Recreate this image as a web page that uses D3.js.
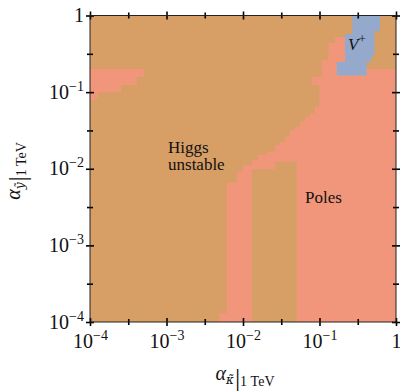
<!DOCTYPE html>
<html>
<head>
<meta charset="utf-8">
<script src="https://cdn.jsdelivr.net/npm/d3@7"></script>
<style>
  body { margin: 0; background: #fff; }
  text { font-family: "Liberation Serif", "DejaVu Serif", serif; fill: #111; }
</style>
</head>
<body>
<svg id="chart" width="400" height="391"></svg>
<script>
// axis ranges / ticks
var xDomain = [1e-4, 1];
var yDomain = [1e-4, 1];
var majorExp = [-4, -3, -2, -1, 0];
var minorExp = [-3.5, -2.5, -1.5, -0.5];

// region outlines, [log10 alpha_kappa, log10 alpha_y]
var polesMain = [
  [-0.797,-0.281],[-0.536,-0.281],[-0.536,-0.698],[0,-0.698],[0,-4],
  [-2.314,-4],[-2.314,-3.884],[-2.209,-3.884],[-2.209,-2.187],[-2.082,-2.187],
  [-2.082,-2.039],[-2.000,-2.039],[-2.000,-1.952],[-1.886,-1.952],[-1.886,-1.886],
  [-1.804,-1.886],[-1.804,-1.821],[-1.690,-1.821],[-1.690,-1.778],[-1.582,-1.778],
  [-1.582,-1.691],[-1.516,-1.691],[-1.516,-1.648],[-1.451,-1.648],[-1.451,-1.582],
  [-1.386,-1.582],[-1.386,-1.495],[-1.320,-1.495],[-1.320,-1.452],[-1.255,-1.452],
  [-1.255,-1.386],[-1.190,-1.386],[-1.190,-1.321],[-1.124,-1.321],[-1.124,-1.277],
  [-1.059,-1.277],[-1.059,-1.191],[-1.003,-1.191],[-1.003,-0.907],[-1.102,-0.907],
  [-1.102,-0.799],[-0.971,-0.799],[-0.971,-0.581],[-0.885,-0.581],[-0.885,-0.359],
  [-0.797,-0.359]
];
var polesLeft = [
  [-4,-0.698],[-3.290,-0.698],[-3.290,-0.799],[-3.390,-0.799],[-3.390,-0.907],
  [-3.595,-0.907],[-3.595,-1.003],[-3.895,-1.003],[-3.895,-1.064],[-3.948,-1.103],
  [-4,-1.116]
];
var higgsIsland = [
  [-1.886,-2.004],[-1.582,-2.004],[-1.582,-1.909],[-1.298,-1.909],[-1.298,-4],[-1.886,-4]
];
var vPlus = [
  [-0.571,0],[-0.209,0],[-0.209,-0.202],[-0.281,-0.202],[-0.281,-0.522],
  [-0.320,-0.522],[-0.320,-0.607],[-0.383,-0.607],[-0.383,-0.783],[-0.775,-0.783],
  [-0.775,-0.607],[-0.667,-0.607],[-0.667,-0.242],[-0.571,-0.242]
];

var colors = { higgs: "#D79E66", poles: "#F2967B", vplus: "#94A9CB" };

var svg = d3.select("#chart");
var padL = 90, padR = 396, padT = 15.5, padB = 322;

var x = d3.scaleLog().domain(xDomain).range([padL, padR]);
var y = d3.scaleLog().domain(yDomain).range([padB, padT]);

var line = d3.line()
  .x(function(d) { return x(Math.pow(10, d[0])); })
  .y(function(d) { return y(Math.pow(10, d[1])); });

// background = Higgs unstable
svg.append("rect")
  .attr("x", x(xDomain[0])).attr("y", y(yDomain[1]))
  .attr("width", x(xDomain[1]) - x(xDomain[0]))
  .attr("height", y(yDomain[0]) - y(yDomain[1]))
  .attr("fill", colors.higgs);

[[polesMain, colors.poles], [polesLeft, colors.poles],
 [higgsIsland, colors.higgs], [vPlus, colors.vplus]].forEach(function(r) {
  svg.append("path").attr("d", line(r[0]) + "Z").attr("fill", r[1]);
});

// region labels
function label(ex, ey, str, italic) {
  return svg.append("text")
    .attr("x", x(Math.pow(10, ex))).attr("y", y(Math.pow(10, ey)))
    .style("font-size", "17px")
    .style("font-style", italic ? "italic" : "normal")
    .text(str);
}
label(-2.98, -1.79, "Higgs");
label(-2.98, -2.02, "unstable");
label(-1.19, -2.452, "Poles");
var vp = label(-0.627, -0.45, "V", true);
vp.append("tspan").attr("dy", -7).style("font-size", "13px").style("font-style", "normal").text("+");

// axes
var majors = majorExp.map(function(e) { return Math.pow(10, e); });
var minors = minorExp.map(function(e) { return Math.pow(10, e); });

function fmtTick(sel) {
  sel.each(function(d) {
    var t = d3.select(this), e = Math.round(Math.log10(d));
    t.text(null);
    if (e === 0) { t.text("1"); return; }
    t.append("tspan").text("10");
    t.append("tspan").attr("dy", -8).style("font-size", "14px").text("\u2212" + (-e));
  });
}

function crossTicks(g, len, horiz) {
  g.selectAll(".tick line")
    .attr(horiz ? "y1" : "x1", -len).attr(horiz ? "y2" : "x2", len)
    .attr("stroke", "#000").attr("stroke-width", 1.6);
  g.select(".domain").remove();
}

var axes = [
  [d3.axisBottom(x), "translate(0," + padB + ")", true, true],
  [d3.axisTop(x), "translate(0," + padT + ")", true, false],
  [d3.axisLeft(y), "translate(" + padL + ",0)", false, true],
  [d3.axisRight(y), "translate(" + padR + ",0)", false, false]
];
axes.forEach(function(a) {
  var gMaj = svg.append("g").attr("transform", a[1])
    .call(a[0].tickValues(majors).tickSize(4).tickFormat(function() { return ""; }));
  crossTicks(gMaj, 4, a[2]);
  var gMin = svg.append("g").attr("transform", a[1])
    .call(a[0].tickValues(minors).tickSize(3).tickFormat(function() { return ""; }));
  crossTicks(gMin, 3, a[2]);
  if (a[3]) {
    var txt = gMaj.selectAll(".tick text")
      .attr("fill", null).style("font-size", "20px");
    if (a[2]) {
      txt.attr("y", 26).attr("dy", 0).attr("text-anchor", "middle");
    } else {
      txt.attr("x", -6).attr("dy", 6).attr("text-anchor", "end");
    }
    txt.call(fmtTick);
  }
});

// frame
svg.append("rect")
  .attr("x", padL).attr("y", padT)
  .attr("width", padR - padL).attr("height", padB - padT)
  .attr("fill", "none").attr("stroke", "#222").attr("stroke-width", 1);

// axis titles: alpha, subscript with combining tilde, evaluation bar, "1 TeV"
function axisTitle(g, sub) {
  g.append("tspan").style("font-style", "italic").style("font-size", "20px").text("\u03b1");
  g.append("tspan").attr("dy", 4).style("font-family", "'DejaVu Serif'")
    .style("font-style", "italic").style("font-size", "12px").text(sub + "\u0303");
  g.append("tspan").attr("dx", 1).attr("dy", 2).style("font-size", "26px").style("font-weight", "200").text("|");
  g.append("tspan").attr("dy", 0).style("font-size", "14px").text("1 TeV");
}
var xt = svg.append("text").attr("x", 245).attr("y", 380).attr("text-anchor", "middle");
axisTitle(xt, "\u03ba");
var yt = svg.append("text").attr("transform", "translate(20,171) rotate(-90)").attr("text-anchor", "middle");
axisTitle(yt, "y");
</script>
</body>
</html>
